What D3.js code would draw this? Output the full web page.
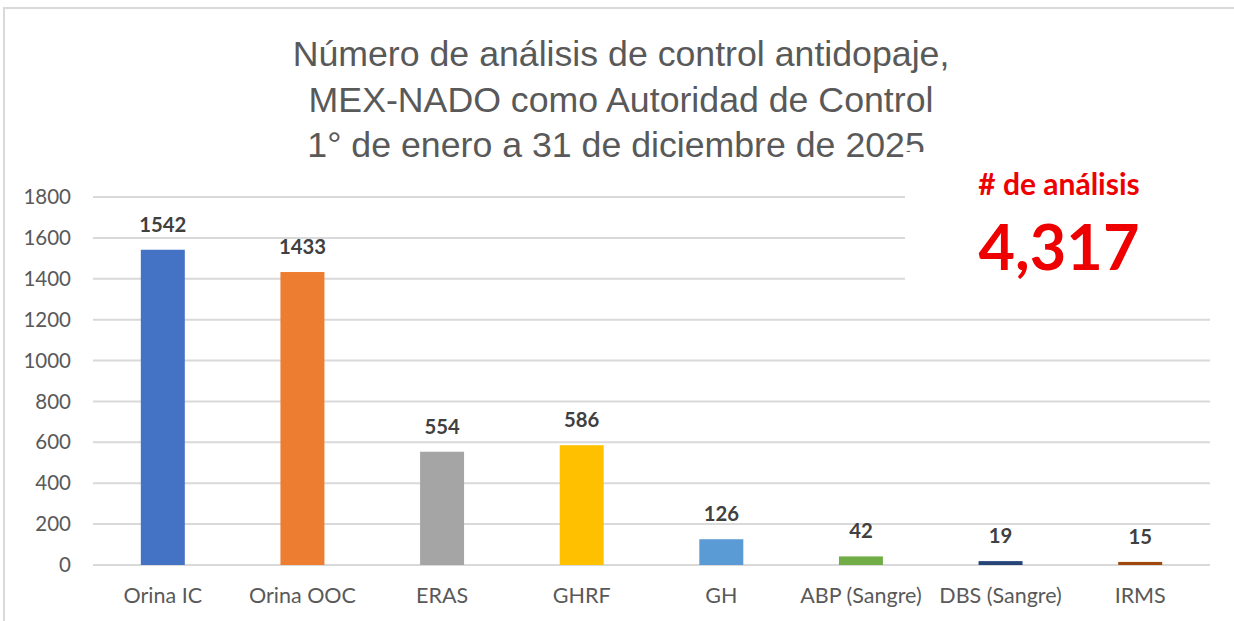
<!DOCTYPE html>
<html>
<head>
<meta charset="utf-8">
<script src="https://cdn.jsdelivr.net/npm/d3@7"></script>
<style>
    body { margin: 0; background: #fff; }
    svg { display: block; }
</style>
</head>
<body>
<script>
// data
var categories = ["Orina IC", "Orina OOC", "ERAS", "GHRF", "GH",
    "ABP (Sangre)", "DBS (Sangre)", "IRMS"];
var values = [1542, 1433, 554, 586, 126, 42, 19, 15];
var barColors = ["#4472C4", "#ED7D31", "#A5A5A5", "#FFC000", "#5B9BD5",
    "#70AD47", "#264478", "#9E480E"];
var yTicks = [0, 200, 400, 600, 800, 1000, 1200, 1400, 1600, 1800];
var titleLines = ["Número de análisis de control antidopaje,",
    "MEX-NADO como Autoridad de Control",
    "1° de enero a 31 de diciembre de 2025."];
var totalLabel = "# de análisis";
var totalValue = "4,317";

var width = 1234, height = 621;
var margin = {left: 93, right: 24, top: 197, bottom: 56};
var labelFont = "Lato, 'Open Sans', sans-serif";

var svg = d3.select("body")
    .append("svg")
    .attr("width", width)
    .attr("height", height);

// outer frame
svg.append("rect")
    .attr("x", 4).attr("y", 8)
    .attr("width", width + 10).attr("height", height + 10)
    .attr("fill", "#fff")
    .attr("stroke", "#d9d9d9")
    .attr("stroke-width", 2);

var x = d3.scaleBand()
    .domain(categories)
    .range([margin.left, width - margin.right])
    .paddingInner(0.685)
    .paddingOuter(0.3425);

var y = d3.scaleLinear()
    .domain([0, 1800])
    .range([height - margin.bottom, margin.top]);

// gridlines
svg.append("g")
    .selectAll("line")
    .data(yTicks)
    .join("line")
    .attr("x1", margin.left)
    .attr("x2", width - margin.right)
    .attr("y1", function(d) { return y(d); })
    .attr("y2", function(d) { return y(d); })
    .attr("stroke", "#d9d9d9")
    .attr("stroke-width", 2);

// y axis labels
var yAxis = d3.axisLeft(y)
    .tickValues(yTicks)
    .tickSize(0)
    .tickPadding(0)
    .tickFormat(d3.format("d"));
svg.append("g")
    .attr("transform", "translate(71,0)")
    .call(yAxis)
    .call(function(g) { g.select(".domain").remove(); })
    .selectAll("text")
    .attr("font-family", labelFont)
    .attr("font-size", 20.5)
    .attr("fill", "#595959");

// title
svg.append("g")
    .attr("transform", "translate(621,0)")
    .selectAll("text")
    .data(titleLines)
    .join("text")
    .attr("x", 0)
    .attr("y", function(d, i) { return 66 + i * 45.5; })
    .attr("text-anchor", "middle")
    .attr("font-family", "'Liberation Sans', Arial, sans-serif")
    .attr("font-size", 35.7)
    .attr("fill", "#595959")
    .text(function(d) { return d; });

// white box covering the top right gridlines (and a bit of the title)
svg.append("rect")
    .attr("x", 905).attr("y", 152)
    .attr("width", 320).attr("height", 146)
    .attr("fill", "#fff");

// bars
svg.append("g")
    .selectAll("rect")
    .data(values)
    .join("rect")
    .attr("x", function(d, i) { return x(categories[i]); })
    .attr("y", function(d) { return y(d); })
    .attr("width", x.bandwidth())
    .attr("height", function(d) { return y(0) - y(d); })
    .attr("fill", function(d, i) { return barColors[i]; });

// value labels
svg.append("g")
    .selectAll("text")
    .data(values)
    .join("text")
    .attr("x", function(d, i) { return x(categories[i]) + x.bandwidth() / 2; })
    .attr("y", function(d) { return y(d) - 18; })
    .attr("text-anchor", "middle")
    .attr("font-family", labelFont)
    .attr("font-weight", "bold")
    .attr("font-size", 20.3)
    .attr("fill", "#404040")
    .text(function(d) { return d; });

// x axis labels
var xAxis = d3.axisBottom(x).tickSize(0).tickPadding(0);
svg.append("g")
    .attr("transform", "translate(0,588)")
    .call(xAxis)
    .call(function(g) { g.select(".domain").remove(); })
    .selectAll("text")
    .attr("font-family", labelFont)
    .attr("font-size", 21.5)
    .attr("fill", "#595959");

// total annotation
svg.append("text")
    .attr("x", 1059).attr("y", 195)
    .attr("text-anchor", "middle")
    .attr("font-family", labelFont)
    .attr("font-weight", "bold")
    .attr("font-size", 30)
    .attr("fill", "#ee0000")
    .text(totalLabel);
svg.append("text")
    .attr("x", 1059).attr("y", 270)
    .attr("text-anchor", "middle")
    .attr("font-family", labelFont)
    .attr("font-weight", "bold")
    .attr("font-size", 63)
    .attr("fill", "#ee0000")
    .text(totalValue);
</script>
</body>
</html>
